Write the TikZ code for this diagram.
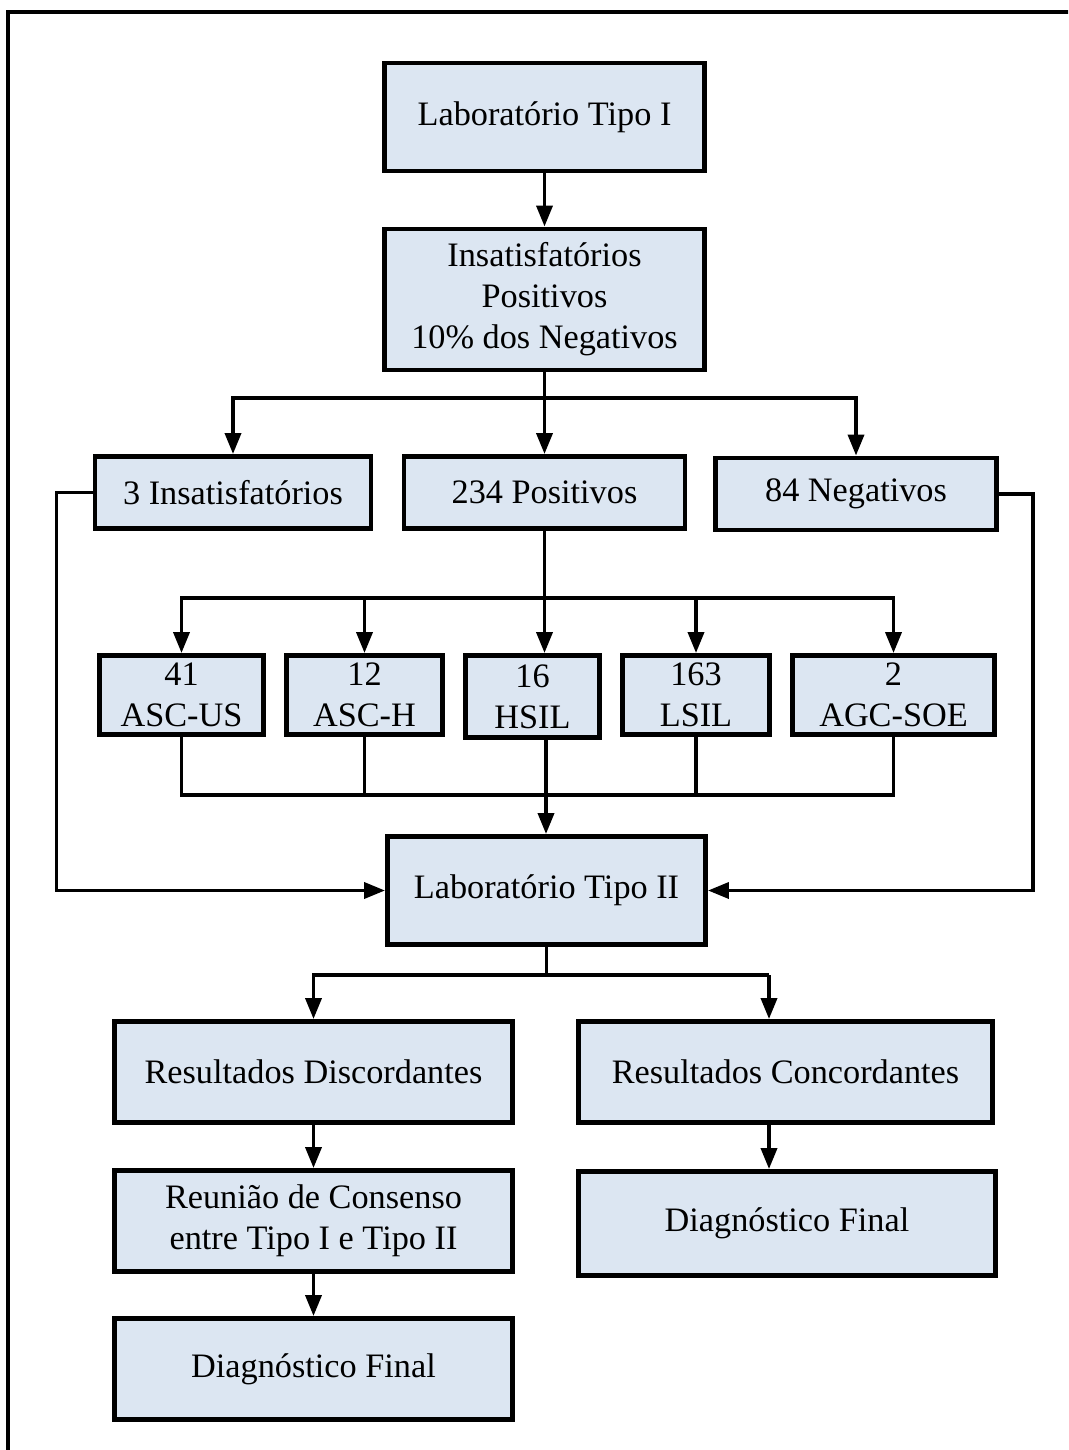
\documentclass[tikz,border=0pt]{standalone}
\usepackage{fontspec}
\setmainfont{Liberation Serif}
\usetikzlibrary{arrows.meta, calc}
\definecolor{boxblue}{RGB}{220,230,242}

\begin{document}
\begin{tikzpicture}[
    x = 0.2mm, y = -0.2mm,
    box/.style = {draw, fill = boxblue, line width = 2.8pt, align = center,
      inner sep = 0pt, font = \fontsize{19.5}{23.4}\selectfont},
    line/.style = {line width = 2.1pt},
    arrow/.style = {line, -{Triangle[length = 4.2mm, width = 3.2mm]}}
  ]
  \useasboundingbox (0,0) rectangle (1068,1450);
  \begin{scope}
    \clip (0,0) rectangle (1068,1450);
    \draw[line] (8,12) rectangle (1090,1470);
  \end{scope}

  % first level
  \node[box, minimum width = 64mm, minimum height = 21.6mm]
    (labI) at (544.5,117) {Laboratório Tipo I};
  \node[box, minimum width = 64mm, minimum height = 28.2mm]
    (criteria) at (544.5,299.5) {Insatisfatórios\\Positivos\\10\% dos Negativos};
  \node[box, minimum width = 55.2mm, minimum height = 14.4mm]
    (insat) at (233,492.5) {3 Insatisfatórios};
  \node[box, minimum width = 56.2mm, minimum height = 14.4mm]
    (pos) at (544.5,492.5) {234 Positivos};
  \node[box, minimum width = 56.2mm, minimum height = 14.4mm]
    (neg) at (856,494) {84 Negativos};

  % positives
  \node[box, minimum width = 32.8mm, minimum height = 15.8mm]
    (ascus) at (181.5,695) {41\\ASC-US};
  \node[box, minimum width = 31.2mm, minimum height = 15.8mm]
    (asch) at (364.5,695) {12\\ASC-H};
  \node[box, minimum width = 26.8mm, minimum height = 16.4mm]
    (hsil) at (532.5,696.5) {16\\HSIL};
  \node[box, minimum width = 29.4mm, minimum height = 15.8mm]
    (lsil) at (696,695) {163\\LSIL};
  \node[box, minimum width = 40.4mm, minimum height = 15.8mm]
    (agc) at (893.5,695) {2\\AGC-SOE};

  % second laboratory
  \node[box, minimum width = 63.6mm, minimum height = 21.6mm]
    (labII) at (546.5,890.5) {Laboratório Tipo II};
  \node[box, minimum width = 79.6mm, minimum height = 20.2mm]
    (disc) at (313.5,1072) {Resultados Discordantes};
  \node[box, minimum width = 82.8mm, minimum height = 20.2mm]
    (conc) at (785.5,1072) {Resultados Concordantes};
  \node[box, minimum width = 79.6mm, minimum height = 20.2mm]
    (meet) at (313.5,1221) {Reunião de Consenso\\entre Tipo I e Tipo II};
  \node[box, minimum width = 83.4mm, minimum height = 20.8mm]
    (diagR) at (787,1223.5) {Diagnóstico Final};
  \node[box, minimum width = 79.6mm, minimum height = 20.2mm]
    (diagL) at (313.5,1369) {Diagnóstico Final};

  % Connectors
  \coordinate (split1) at (544.5,398);
  \coordinate (split2) at (544.5,598);
  \coordinate (merge) at (546,795);
  \coordinate (split3) at (546.5,975);
  \coordinate (right) at (769,975);

  \draw[arrow] (labI) -- (criteria);
  \draw[line] (criteria) -- (split1);
  \draw[arrow] (split1) -| (insat);
  \draw[arrow] (split1) -- (pos);
  \draw[arrow] (split1) -| (neg);

  \draw[line] (pos) -- (split2);
  \draw[arrow] (split2) -| (ascus);
  \draw[arrow] (split2) -| (asch);
  \draw[arrow] (split2) -- (split2 |- hsil.north);
  \draw[arrow] (split2) -| (lsil);
  \draw[arrow] (split2) -| (agc);

  \draw[line] (ascus) |- (merge) -| (agc);
  \draw[line] (asch) -- (asch |- merge);
  \draw[line] (lsil) -- (lsil |- merge);
  \draw[arrow] (hsil.south -| merge) -- (labII.north -| merge);

  \draw[arrow] (insat.west) -- ++(-36,0) |- (labII);
  \draw[arrow] (neg.east) -- ++(34,0) |- (labII);

  \draw[line] (labII) -- (split3) -- (right);
  \draw[arrow] (split3) -| (disc);
  \draw[arrow] (right) -- (right |- conc.north);
  \draw[arrow] (disc) -- (meet);
  \draw[arrow] (meet) -- (diagL);
  \draw[arrow] (right |- conc.south) -- (right |- diagR.north);

\end{tikzpicture}
\end{document}
